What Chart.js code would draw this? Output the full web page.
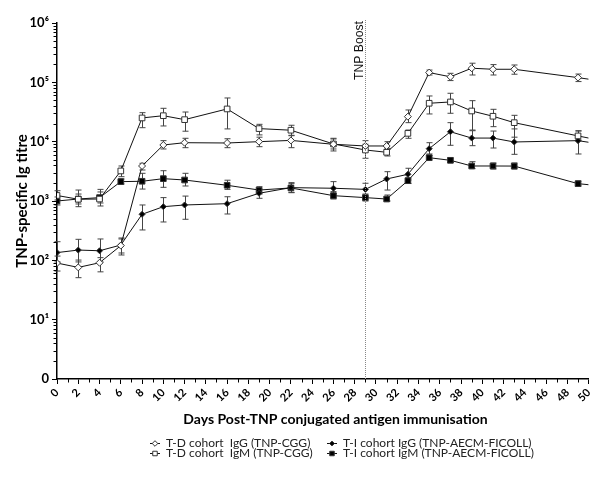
<!DOCTYPE html>
<html><head><meta charset="utf-8">
<script src="https://cdn.jsdelivr.net/npm/chart.js@4.4.0/dist/chart.umd.min.js"></script>
<style>html,body{margin:0;padding:0;background:#fff}#wrap{position:relative;width:600px;height:477px}</style>
</head><body><div id="wrap"><canvas id="c"></canvas></div>
<script>
const days = [0,2,4,6,8,10,12,16,19,22,26,29,31,33,35,37,39,41,43,49,50];

const tdIgG     = [90,76,91,177,3890,8790,9610,9500,10000,10500,9040,8460,8460,26400,146000,124000,173000,166000,166000,120000,113000];
const tdIgGHigh = [118,101,111,238,4320,10400,11400,11200,11900,12800,11400,10400,10000,34200,161000,142000,210000,199000,196000,138000,null];
const tdIgGLow  = [66,51,64,123,3330,7530,7920,7920,8230,7920,7530,7240,7440,20900,133000,107000,133000,133000,137000,103000,null];

const tdIgM     = [1240,1070,1080,3210,25100,27400,23500,35600,16600,15600,9140,7240,6620,13800,44400,46700,32900,26800,20900,12500,11500];
const tdIgMHigh = [1490,1530,1570,3890,30800,36500,31600,54500,19600,18900,11100,9040,7730,15700,58900,65400,49100,35100,27800,15100,null];
const tdIgMLow  = [1040,802,824,2570,17200,18400,15000,16400,13000,12600,6970,5250,5740,11400,29300,30100,15700,17900,11900,10700,null];

const tiIgG     = [135,149,145,181,597,802,857,901,1350,1680,1640,1570,2350,2820,7620,14700,11500,11500,9880,10400,9770];
const tiIgGHigh = [206,226,229,229,857,1140,1210,1180,1590,2040,2120,1990,3120,3560,9610,20900,15300,15100,16400,15300,null];
const tiIgGLow  = [94,94,94,133,325,443,492,604,1110,1380,1350,1180,1530,2260,6200,8690,8560,7820,6120,6200,null];

const tiIgM     = [1000,1080,1140,2120,2150,2380,2260,1840,1530,1660,1230,1140,1080,2200,5370,4850,3890,3890,3880,1960,1880];
const tiIgMHigh = [1170,1310,1420,2350,2930,3240,2930,2240,1740,1960,1440,1310,1260,2440,5850,5310,4600,4370,4370,2170,null];
const tiIgMLow  = [857,891,926,1940,1590,1700,1790,1570,1310,1400,1080,1000,1000,1970,4910,4460,3510,3460,3460,1790,null];

const seriesLabels = ['T-D cohort  IgG (TNP-CGG)','T-D cohort  IgM (TNP-CGG)','T-I cohort IgG (TNP-AECM-FICOLL)','T-I cohort IgM (TNP-AECM-FICOLL)'];
const yTickValues = [1,10,100,1000,10000,100000,1000000];
const yTickLabels = ['0','10\u00B9','10\u00B2','10\u00B3','10\u2074','10\u2075','10\u2076'];
const xTitle = 'Days Post-TNP conjugated antigen immunisation';
const yTitle = 'TNP-specific Ig titre';
const boostDay = 29;
const boostLabel = 'TNP Boost';

const lastIdx = days.length - 1;
function mk(label, vals, lo, hi, style, radius, fill){
  return {
    label, data: days.map((d,i)=>({x:d,y:vals[i]})), errLow: lo, errHigh: hi,
    borderColor:'#111', borderWidth:1, pointStyle:style,
    pointRadius: ctx => ctx.dataIndex===lastIdx ? 0 : radius,
    pointBackgroundColor: fill, pointBorderColor:'#333', pointBorderWidth:1,
    tension:0, fill:false, _r: radius
  };
}

const errPlugin = {
  id:'err',
  beforeDatasetsDraw(chart){
    const {ctx, scales:{x,y}} = chart;
    ctx.save(); ctx.strokeStyle='#444'; ctx.lineWidth=1;
    chart.data.datasets.forEach(ds=>{
      ds.errLow.forEach((lo,i)=>{
        const hi = ds.errHigh[i]; if(lo==null||hi==null) return;
        const px = Math.round(x.getPixelForValue(days[i]))+0.5;
        const pl = y.getPixelForValue(lo), ph = y.getPixelForValue(hi);
        ctx.beginPath();
        ctx.moveTo(px,pl); ctx.lineTo(px,ph);
        ctx.moveTo(px-3,pl); ctx.lineTo(px+3,pl);
        ctx.moveTo(px-3,ph); ctx.lineTo(px+3,ph);
        ctx.stroke();
      });
    });
    ctx.restore();
  }
};

const decorPlugin = {
  id:'decor',
  afterDraw(chart){
    const {ctx, scales:{x,y}, chartArea:ca} = chart;
    ctx.save();
    ctx.strokeStyle='#000'; ctx.lineWidth=1;
    ctx.beginPath();
    for(let d=1; d<50; d+=2){ const px=Math.round(x.getPixelForValue(d))+0.5; ctx.moveTo(px,ca.bottom); ctx.lineTo(px,ca.bottom+3.5); }
    for(let k=0;k<6;k++){ for(let m=2;m<10;m++){ const py=Math.round(y.getPixelForValue(m*Math.pow(10,k)))+0.5; ctx.moveTo(ca.left-3.5,py); ctx.lineTo(ca.left,py);} }
    ctx.stroke();
    const bx = Math.round(x.getPixelForValue(boostDay))+0.5;
    ctx.strokeStyle='#888'; ctx.setLineDash([1,1]);
    ctx.beginPath(); ctx.moveTo(bx, ca.top-3); ctx.lineTo(bx, ca.bottom); ctx.stroke();
    ctx.setLineDash([]);
    ctx.fillStyle='#111';
    ctx.font='12px "Liberation Sans", Arial, sans-serif';
    const w12 = ctx.measureText(boostLabel).width || 58;
    const fs = Math.max(9, Math.min(16, 12*59/w12));
    ctx.font = fs.toFixed(2)+'px "Liberation Sans", Arial, sans-serif';
    ctx.translate(bx-6, ca.top-2); ctx.rotate(-Math.PI/2);
    ctx.textAlign='right'; ctx.textBaseline='middle';
    ctx.fillText(boostLabel, 0, 0);
    ctx.setTransform(1,0,0,1,0,0);
    ctx.font='bold 14px Lato, sans-serif'; ctx.textAlign='center'; ctx.textBaseline='middle';
    ctx.fillStyle='#000';
    ctx.fillText(xTitle, 335.5, 419);
    const order=[0,2,1,3];
    const pos=[[150,443],[327,443],[150,453],[327,453]];
    ctx.font='12px Lato, sans-serif'; ctx.textAlign='left'; ctx.textBaseline='middle';
    order.forEach((di,j)=>{
      const ds=chart.data.datasets[di]; const [lx,ly]=pos[j];
      ctx.strokeStyle='#111'; ctx.lineWidth=1;
      ctx.beginPath(); ctx.moveTo(lx,ly+0.5); ctx.lineTo(lx+10,ly+0.5); ctx.stroke();
      ctx.fillStyle=ds.pointBackgroundColor; ctx.strokeStyle='#333';
      Chart.helpers.drawPoint(ctx,{pointStyle:ds.pointStyle,radius:ds._r*0.8,borderWidth:1,rotation:0},lx+5,ly+0.5);
      ctx.fillStyle='#222';
      ctx.fillText(ds.label, lx+16, ly+0.5);
    });
    ctx.restore();
  }
};

new Chart(document.getElementById('c'), {
  type:'line',
  data:{ datasets:[
    mk(seriesLabels[0], tdIgG, tdIgGLow, tdIgGHigh, 'rectRot', 3.5, '#fff'),
    mk(seriesLabels[1], tdIgM, tdIgMLow, tdIgMHigh, 'rect', 4, '#fff'),
    mk(seriesLabels[2], tiIgG, tiIgGLow, tiIgGHigh, 'rectRot', 3, '#000'),
    mk(seriesLabels[3], tiIgM, tiIgMLow, tiIgMHigh, 'rect', 4, '#000')
  ]},
  options:{
    responsive:true, maintainAspectRatio:false, animation:false,
    layout:{padding:{top:23,right:8,left:0,bottom:0}},
    plugins:{legend:{display:false}, tooltip:{enabled:false}},
    scales:{
      x:{ type:'linear', min:0, max:50,
        afterFit(s){ s.height = 98; },
        grid:{display:true, drawOnChartArea:false, drawTicks:true, tickLength:5, color:'#000'},
        border:{display:true, color:'#000', width:1.5},
        ticks:{stepSize:2, autoSkip:false, maxRotation:45, minRotation:45, padding:2, color:'#000',
               font:{family:'Lato, sans-serif', size:11, weight:'bold'}}
      },
      y:{ type:'logarithmic', min:1, max:1000000,
        afterFit(s){ s.width = 57; },
        afterBuildTicks(s){ s.ticks = yTickValues.map(v=>({value:v, major:true})); },
        grid:{display:true, drawOnChartArea:false, drawTicks:true, tickLength:5, color:'#000'},
        border:{display:true, color:'#000', width:1.5},
        ticks:{autoSkip:false, padding:3, color:'#000',
               callback:(v)=>{ const i=yTickValues.indexOf(v); return i>=0 ? yTickLabels[i] : ''; },
               font:{family:'Lato, "DejaVu Sans", sans-serif', size:13, weight:'bold'}},
        title:{display:true, text:yTitle, color:'#000', padding:{top:13,bottom:0},
               font:{family:'Lato, sans-serif', size:15, weight:'bold'}}
      }
    }
  },
  plugins:[errPlugin, decorPlugin]
});
</script></body></html>
